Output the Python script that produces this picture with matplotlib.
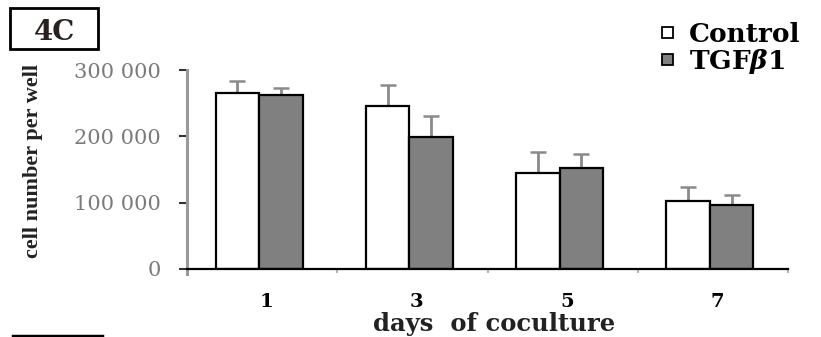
import matplotlib
matplotlib.use("Agg")
import matplotlib.pyplot as plt
import numpy as np
from matplotlib.lines import Line2D
from matplotlib.patches import Patch, Rectangle

# values (cells per well, mean and upper error)
days = ["1", "3", "5", "7"]
control_mean = [265000, 245000, 145000, 102000]
control_err = [19000, 33000, 32000, 21000]
tgf_mean = [263000, 199000, 153000, 97000]
tgf_err = [10000, 31000, 20000, 15000]
y_ticks = [0, 100000, 200000, 300000]
series_labels = ["Control", "TGF$\\beta$1"]

plt.rcParams["font.family"] = ["DejaVu Serif"]
plt.rcParams["mathtext.fontset"] = "custom"
plt.rcParams["mathtext.rm"] = "DejaVu Serif:bold"
plt.rcParams["mathtext.it"] = "DejaVu Serif:italic:bold"

W, H = 821, 337
fig = plt.figure(figsize=(W / 100, H / 100), dpi=100)
ax = fig.add_axes([187 / W, 1 - 269 / H, 601 / W, 199 / H])

x = np.arange(len(days))
width = 0.29
shift = -0.02
pos_c = x - width / 2 + shift
pos_t = x + width / 2 + shift

ax.bar(pos_c, control_mean, width, color="white", edgecolor="black", linewidth=1.6, zorder=2)
ax.bar(pos_t, tgf_mean, width, color="#808080", edgecolor="black", linewidth=1.6, zorder=2)

for pos, mean, err in ((pos_c, control_mean, control_err), (pos_t, tgf_mean, tgf_err)):
    eb = ax.errorbar(pos, mean, yerr=[np.zeros(len(err)), err], fmt="none",
                     ecolor="#8a8a8a", elinewidth=2.0, capsize=6, capthick=1.8, zorder=1)
    for cap in eb.lines[1]:
        if np.allclose(cap.get_ydata(), mean):
            cap.remove()
        else:
            cap.set_color("#3a3a3a")

ax.set_xlim(-0.5, 3.5)
ax.set_ylim(0, 300000)
for side in ("top", "right"):
    ax.spines[side].set_visible(False)
ax.spines["left"].set_color("#9a9a9a")
ax.spines["left"].set_linewidth(2.2)
ax.spines["left"].set_bounds(-8000, 300000)
ax.spines["bottom"].set_color("black")
ax.spines["bottom"].set_linewidth(1.6)

ax.set_yticks(y_ticks, labels=[f"{v:,}".replace(",", " ") for v in y_ticks])
ax.tick_params(axis="y", length=6, width=1.5, color="#333333", pad=13,
               labelsize=15, labelcolor="#7a7a7a")
ax.set_xticks(x + 0.03, labels=days)
ax.tick_params(axis="x", which="major", length=0, pad=17, labelsize=14)
for t in ax.get_xticklabels():
    t.set_fontweight("bold")
ax.set_xticks(np.arange(0.5, 4, 1), minor=True)
ax.tick_params(axis="x", which="minor", length=3, width=1.5, color="#b5b5b5")

ylab = ax.set_ylabel("cell number per well", fontfamily="Liberation Serif",
                     fontweight="bold", fontsize=16, color="#222222")
ylab.set_va("center")
ax.yaxis.set_label_coords((33 - 187) / 601, (269 - 161) / 199)

xlab = ax.set_xlabel("days  of coculture", fontweight="bold", fontsize=17.5, color="#222222")
xlab.set_va("center")
ax.xaxis.set_label_coords((494 - 187) / 601, (269 - 324) / 199)

# panel tag in a box
fig.add_artist(Rectangle((10 / W, 1 - 49 / H), 88 / W, 41 / H, fill=False,
                         edgecolor="black", linewidth=2, transform=fig.transFigure))
fig.text(54 / W, 1 - 40 / H, "4C", ha="center", va="baseline", fontsize=20,
         fontweight="bold", color="#2a2020")

handles = [Patch(facecolor="white", edgecolor="black", linewidth=1.3),
           Patch(facecolor="#808080", edgecolor="black", linewidth=1.3)]
fig.legend(handles, series_labels, loc="upper left", bbox_to_anchor=(662 / W, 1 - 22 / H),
           frameon=False, prop={"weight": "bold", "size": 19}, handlelength=0.42,
           handleheight=0.3, handletextpad=0.6, labelspacing=0.0, borderpad=0,
           borderaxespad=0)

fig.add_artist(Line2D([13 / W, 102 / W], [1.2 / H, 1.2 / H], color="black",
                      linewidth=2.5, transform=fig.transFigure))

fig.savefig("out.png", dpi=100)
